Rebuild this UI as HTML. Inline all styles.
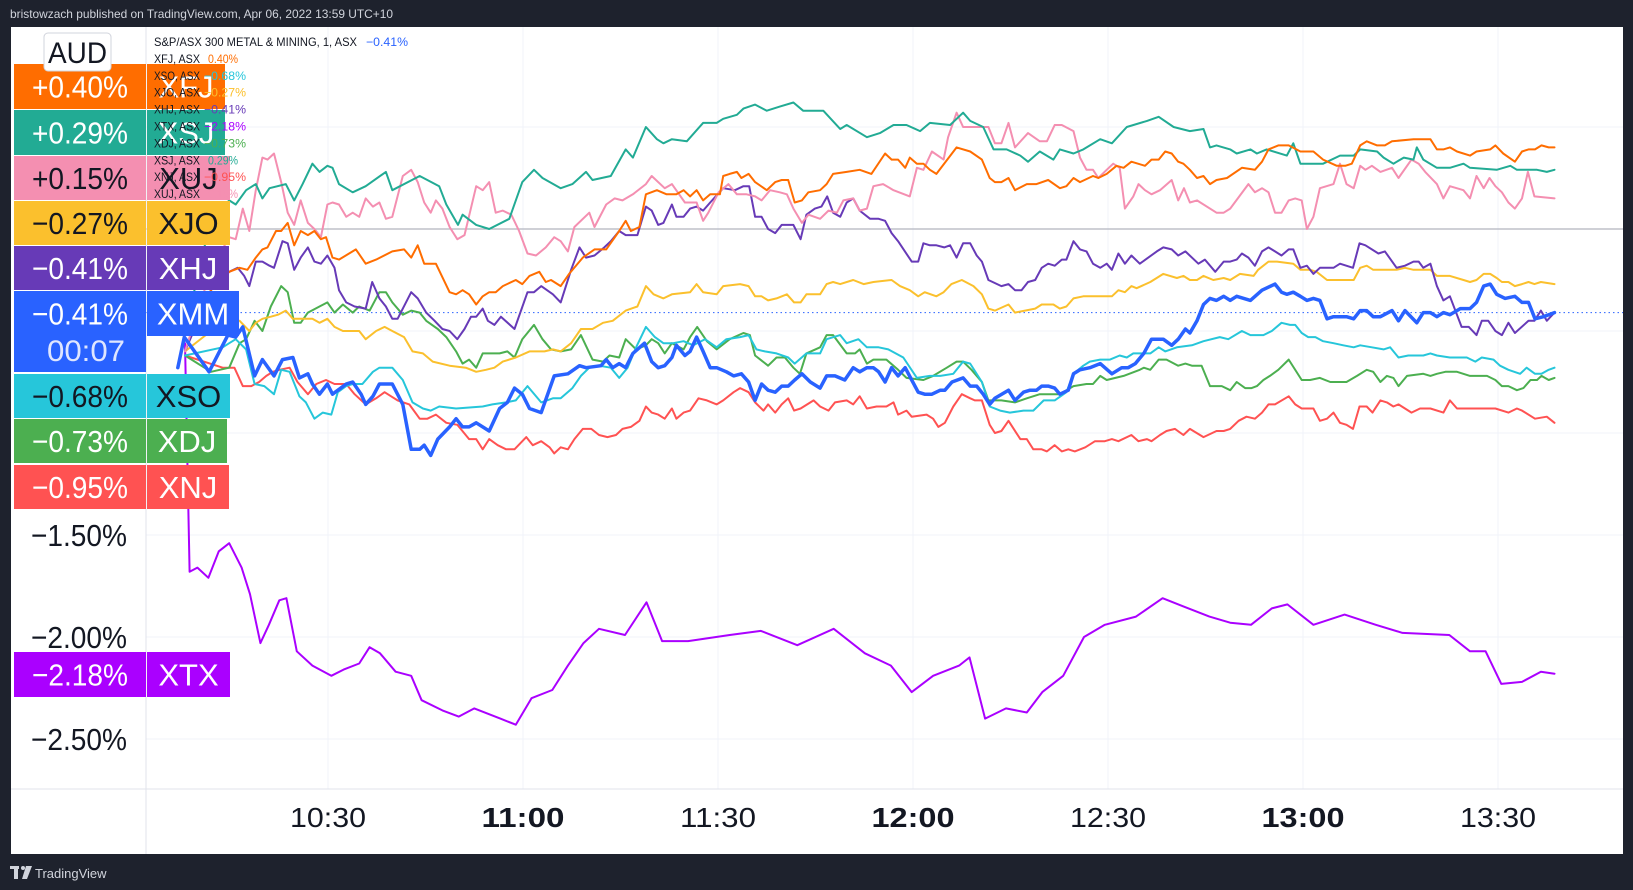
<!DOCTYPE html>
<html><head><meta charset="utf-8"><title>XMM vs ASX sectors</title>
<style>
html,body{margin:0;padding:0;background:#1e222d;}
svg{display:block;font-family:"Liberation Sans",sans-serif;}
</style></head>
<body>
<svg id="chart" width="1633" height="890" viewBox="0 0 1633 890" xmlns="http://www.w3.org/2000/svg">
  <rect x="0" y="0" width="1633" height="890" fill="#1e222d"/>
  <text x="10" y="18" font-size="12" fill="#d1d4dc" textLength="383" lengthAdjust="spacingAndGlyphs">bristowzach published on TradingView.com, Apr 06, 2022 13:59 UTC+10</text>
  <rect x="11" y="27" width="1612" height="827" fill="#ffffff"/>
  <g id="grid"></g>
  <g id="series"></g>
  <line x1="146" y1="27" x2="146" y2="854" stroke="#e0e3eb" stroke-width="1"/>
  <line x1="11" y1="789" x2="1623" y2="789" stroke="#e0e3eb" stroke-width="1"/>
  <g id="ticks"></g>
  <g id="labels"></g>
  <g>
    <rect x="44" y="33" width="67" height="38" rx="4" fill="#ffffff" stroke="#d1d4dc"/>
    <text x="77.5" y="63" font-size="30" text-anchor="middle" fill="#131722" textLength="59" lengthAdjust="spacingAndGlyphs">AUD</text>
  </g>
  <g id="legend"></g>
  <g>
    <rect x="10" y="866" width="9" height="3" fill="#d1d4dc"/>
    <rect x="14" y="866" width="4" height="13" fill="#d1d4dc"/>
    <circle cx="23" cy="868" r="2" fill="#d1d4dc"/>
    <polygon points="26,866 32,866 27,879 22,879" fill="#d1d4dc"/>
    <text x="35" y="878" font-size="13" fill="#d1d4dc">TradingView</text>
  </g>
</svg>
<script>
// ---- data (percent change vs. previous close; minutes after 10:00) ----
const timeTickMinutes = [30, 60, 90, 120, 150, 180, 210];
const timeTickLabels = ["10:30", "11:00", "11:30", "12:00", "12:30", "13:00", "13:30"];
const timeTickBold = [false, true, false, true, false, true, false];
const priceTicks = [0.5, 0, -0.5, -1.0, -1.5, -2.0, -2.5];
const priceTickLabels = ["+0.50%", "0.00%", "−0.50%", "−1.00%", "−1.50%", "−2.00%", "−2.50%"];
const currentXMM = -0.41;

const xtx = [[8,-0.56],[8.7,-1.68],[9.9,-1.66],[11.6,-1.71],[13.2,-1.58],[14.8,-1.54],[16.7,-1.66],[18,-1.79],[19.6,-2.03],[20.9,-1.94],[22.5,-1.82],[23.6,-1.81],[25.2,-2.07],[27.6,-2.14],[30.5,-2.19],[32.4,-2.16],[34.8,-2.13],[36.4,-2.05],[38,-2.08],[40.4,-2.17],[42.8,-2.19],[44.4,-2.31],[47.6,-2.36],[50.1,-2.39],[52.5,-2.35],[56.5,-2.40],[58.9,-2.43],[61.3,-2.30],[64.5,-2.26],[66.9,-2.14],[69.3,-2.03],[71.7,-1.96],[75.7,-1.99],[79,-1.83],[81.4,-2.02],[85.4,-2.02],[91.8,-1.99],[96.6,-1.97],[102.2,-2.04],[107.8,-1.96],[112.6,-2.08],[116.6,-2.14],[119.8,-2.27],[123.1,-2.19],[127.1,-2.14],[128.7,-2.10],[131.1,-2.40],[134.3,-2.35],[137.5,-2.37],[139.9,-2.27],[143.1,-2.19],[146.3,-2.00],[149.5,-1.94],[154.3,-1.90],[158.4,-1.81],[161.6,-1.85],[165.6,-1.90],[168.8,-1.93],[172,-1.94],[175.2,-1.86],[177.6,-1.84],[181.6,-1.94],[186.4,-1.89],[191.2,-1.94],[195.3,-1.98],[202.5,-1.99],[205.7,-2.07],[208.1,-2.07],[210.5,-2.23],[213.7,-2.22],[216.6,-2.17],[218.7,-2.18]];

const xsj = [[8,-0.5],[12,0.05],[14.8,0.14],[15.8,0.12],[17.4,0.19],[18.9,0.22],[19.9,0.15],[21,0.2],[23.5,0.22],[24.8,0.14],[26.1,0.22],[27.6,0.32],[28.7,0.28],[29.9,0.31],[30.7,0.3],[31.7,0.22],[33.8,0.18],[35.8,0.21],[38.9,0.28],[39.9,0.19],[44.1,0.26],[47.1,0.21],[48.2,0.12],[50,0.02],[50.7,0.07],[52.8,0.02],[54.8,0],[57.9,0.05],[59.9,0.23],[61.7,0.29],[63,0.25],[65.8,0.2],[67.6,0.22],[69.7,0.28],[70.7,0.24],[73.5,0.26],[75.8,0.39],[76.9,0.35],[78.9,0.5],[80.6,0.44],[81.6,0.42],[82.9,0.44],[85.2,0.43],[87.7,0.52],[89.8,0.52],[90.8,0.54],[92.9,0.56],[93.9,0.59],[95.7,0.61],[97.5,0.58],[99.5,0.6],[101.6,0.62],[103.1,0.58],[106.2,0.58],[108.8,0.49],[109.8,0.51],[112.9,0.45],[114.9,0.47],[117,0.51],[119,0.51],[121.1,0.48],[122.6,0.52],[125.7,0.51],[127.7,0.57],[128.8,0.53],[130.8,0.5],[132.4,0.39],[134.4,0.39],[136.5,0.36],[137.7,0.33],[139.5,0.38],[141.6,0.34],[142.6,0.39],[144.7,0.37],[146.2,0.39],[148.8,0.44],[150.6,0.42],[152.9,0.5],[156,0.53],[157.8,0.55],[160.1,0.5],[162.6,0.48],[164.7,0.49],[165.7,0.4],[166.7,0.41],[168.8,0.39],[169.8,0.37],[171.9,0.39],[172.9,0.37],[174.4,0.39],[177.5,0.36],[178.5,0.42],[179.6,0.32],[183.1,0.32],[185.7,0.36],[187.8,0.36],[188.8,0.39],[191.4,0.38],[192.4,0.35],[193.9,0.32],[195.5,0.35],[197,0.34],[197.5,0.4],[198.5,0.34],[200.6,0.3],[202.6,0.3],[204.7,0.32],[205.7,0.3],[209.8,0.29],[211.9,0.31],[212.9,0.29],[216,0.29],[217.5,0.28],[218.7,0.29]];

const xfj = [[8,-0.5],[12,-0.3],[14.8,-0.21],[16.4,-0.19],[17.6,-0.2],[18.9,-0.14],[19.9,-0.1],[20.7,-0.09],[22,-0.01],[22.8,-0.01],[23.8,0.03],[24.8,-0.08],[25.8,-0.01],[26.9,-0.03],[27.9,-0.01],[28.9,-0.05],[29.7,-0.04],[30.7,-0.14],[31.7,-0.15],[34.3,-0.1],[35.8,-0.17],[37.4,-0.15],[39.9,-0.11],[41.7,-0.1],[42.8,-0.14],[43.8,-0.08],[44.8,-0.17],[46.6,-0.17],[48.7,-0.31],[49.7,-0.32],[50.7,-0.3],[51.7,-0.32],[52.8,-0.37],[53.8,-0.33],[54.8,-0.31],[55.8,-0.31],[56.9,-0.28],[58.9,-0.25],[59.9,-0.27],[61,-0.23],[62.5,-0.21],[63.5,-0.26],[64.3,-0.25],[65.8,-0.28],[67.1,-0.22],[69.2,-0.14],[71,-0.1],[72.8,-0.1],[74.8,-0.01],[75.8,0.04],[76.6,-0.01],[77.9,0.01],[78.9,0.17],[80.6,0.19],[82.1,0.17],[83.6,0.17],[84.7,0.19],[85.7,0.16],[86.7,0.19],[87.7,0.14],[88.8,0.17],[90.3,0.17],[90.8,0.26],[91.8,0.27],[92.9,0.28],[93.6,0.25],[94.7,0.27],[95.7,0.23],[97.5,0.19],[98.8,0.23],[99.8,0.24],[100.8,0.24],[101.8,0.13],[102.9,0.14],[103.9,0.18],[105.7,0.19],[106.7,0.22],[107.7,0.27],[109.8,0.28],[111.8,0.29],[113.6,0.27],[115.7,0.37],[116.7,0.34],[117.7,0.34],[118.8,0.3],[119.5,0.35],[120.6,0.32],[121.6,0.32],[122.6,0.29],[123.6,0.27],[126.7,0.4],[128.8,0.38],[130.6,0.34],[131.8,0.25],[132.6,0.23],[133.6,0.23],[134.7,0.25],[135.7,0.19],[137.5,0.22],[139,0.22],[140.8,0.24],[142.6,0.2],[143.6,0.21],[144.7,0.25],[145.7,0.23],[147.7,0.26],[148.5,0.25],[149.8,0.27],[151.3,0.31],[152.4,0.3],[153.6,0.33],[155.7,0.31],[156.7,0.34],[157.8,0.34],[158.8,0.38],[159.8,0.37],[160.8,0.33],[161.6,0.32],[162.6,0.29],[163.7,0.25],[164.7,0.26],[165.7,0.22],[166.7,0.24],[168.3,0.25],[170.6,0.3],[172.6,0.29],[173.7,0.33],[174.7,0.39],[176.2,0.41],[177.8,0.41],[179.6,0.38],[181.6,0.38],[183.1,0.34],[185.2,0.31],[186.5,0.31],[187.5,0.32],[188.8,0.41],[189.8,0.43],[191.4,0.41],[192.6,0.41],[193.7,0.43],[197,0.44],[199.6,0.44],[200.6,0.39],[201.6,0.39],[202.6,0.4],[203.7,0.38],[205.7,0.36],[206.7,0.38],[208.8,0.39],[209.6,0.41],[210.8,0.37],[212.6,0.33],[213.7,0.38],[214.7,0.39],[215.7,0.39],[216.7,0.41],[217.8,0.4],[218.7,0.4]];

const xuj = [[8,-0.6],[12,-0.2],[14.8,-0.04],[15.8,-0.05],[16.9,0.1],[17.9,-0.01],[18.9,0.19],[19.9,0.35],[20.7,0.34],[21.7,0.37],[22.8,0.23],[23.8,0.08],[24.8,0.02],[25.8,0.14],[26.9,0.03],[27.9,0],[28.9,-0.04],[29.9,0.12],[30.7,0.13],[31.7,0.12],[32.8,0.06],[33.8,0.08],[34.8,0.06],[35.8,0.15],[36.9,0.11],[37.9,0.13],[38.9,0.05],[39.9,0.06],[41.5,0.26],[42.8,0.29],[43.8,0.23],[44.8,0.13],[45.8,0.08],[46.6,0.14],[47.6,0.1],[48.7,0.01],[49.9,-0.05],[51,-0.03],[52.8,0.21],[53.8,0.19],[54.8,0.23],[55.8,0.08],[56.9,0.09],[58.2,0.07],[59.4,-0.01],[60.7,-0.12],[62,-0.13],[63.5,-0.09],[64.8,-0.04],[65.8,-0.06],[66.9,-0.11],[67.9,0.01],[70.2,0.08],[71,0.01],[72.8,0.12],[74.1,0.15],[75.3,0.14],[76.9,0.17],[78.9,0.22],[79.8,0.26],[81.8,0.2],[82.9,0.22],[84.9,0.13],[86.7,0.13],[87.7,0.04],[88.5,0.08],[90.1,0.18],[91.6,0.22],[92.9,0.17],[94.4,0.17],[95.7,0.16],[96.7,0.14],[98,0.19],[99.5,0.18],[100.6,0.17],[101.6,0.1],[102.9,0.03],[103.9,0.07],[105.7,0.05],[107,0.09],[108.3,0.08],[109.3,0.14],[110.8,0.15],[111.8,0.09],[112.9,0.1],[113.9,0.21],[115.4,0.22],[117,0.19],[119.5,0.16],[120.6,0.3],[121.6,0.29],[122.9,0.38],[124.7,0.34],[125.4,0.45],[126.7,0.57],[127.7,0.5],[129.3,0.5],[131.6,0.5],[132.6,0.42],[133.6,0.42],[134.7,0.52],[135.7,0.4],[137.7,0.47],[139.5,0.43],[140.6,0.43],[141.8,0.51],[142.9,0.51],[144.7,0.48],[145.7,0.35],[146.7,0.29],[147.7,0.29],[148.5,0.25],[149.8,0.29],[150.8,0.32],[151.8,0.3],[152.6,0.1],[153.9,0.16],[154.7,0.22],[155.7,0.19],[156.7,0.17],[158,0.19],[159.8,0.24],[160.8,0.14],[161.7,0.2],[162.6,0.13],[163.7,0.14],[166.7,0.08],[167.8,0.08],[168.8,0.1],[171.6,0.22],[172.6,0.18],[173.7,0.2],[174.7,0.18],[175.7,0.08],[176.7,0.08],[177.8,0.14],[178.8,0.15],[179.8,0.14],[180.6,0],[181.6,0.06],[182.6,0.2],[184.7,0.22],[185.7,0.32],[186.7,0.22],[187.8,0.2],[188.8,0.31],[189.6,0.29],[190.6,0.31],[191.9,0.28],[193.7,0.3],[194.7,0.25],[196.7,0.34],[197.8,0.32],[198.8,0.28],[200.6,0.22],[201.6,0.15],[202.6,0.21],[204.7,0.19],[205.7,0.15],[206.7,0.26],[207.8,0.2],[208.7,0.25],[209.6,0.21],[210.6,0.18],[211.6,0.13],[212.6,0.1],[213.7,0.15],[214.6,0.28],[215.6,0.16],[218.7,0.15]];

const xhj = [[8,-0.6],[12,-0.3],[14.8,-0.21],[16.1,-0.19],[17.1,-0.23],[17.9,-0.28],[18.9,-0.16],[19.9,-0.16],[21,-0.18],[21.7,-0.19],[23,-0.06],[23.8,-0.07],[24.8,-0.2],[25.8,-0.14],[26.9,-0.09],[27.9,-0.16],[28.9,-0.17],[29.9,-0.13],[31,-0.19],[31.7,-0.3],[32.8,-0.36],[34.1,-0.38],[35.8,-0.39],[36.8,-0.26],[37.9,-0.34],[38.9,-0.38],[39.9,-0.44],[40.7,-0.44],[42.8,-0.31],[43.8,-0.34],[45.1,-0.41],[46.4,-0.45],[47.6,-0.49],[48.7,-0.5],[49.9,-0.54],[51,-0.49],[52,-0.43],[52.8,-0.43],[53.8,-0.39],[54.6,-0.45],[55.6,-0.47],[56.6,-0.43],[58.7,-0.49],[60.7,-0.31],[61.7,-0.31],[62.8,-0.28],[64.6,-0.32],[65.8,-0.36],[67.4,-0.2],[68.7,-0.09],[69.7,-0.14],[71,-0.13],[72.5,-0.09],[73.5,-0.06],[74.8,-0.01],[75.8,-0.03],[77.6,-0.03],[78.9,0.11],[79.8,0.09],[80.8,0.02],[81.6,0.03],[82.9,0.12],[83.6,0.06],[84.7,0.06],[85.7,0.1],[86.7,0.11],[87.7,0.09],[88.8,0.13],[90.8,0.2],[92.6,0.19],[93.9,0.21],[94.8,0.21],[95.7,0.06],[96.7,0.06],[97.7,0],[98.8,-0.02],[99.8,0.02],[100.6,0.02],[101.6,0.02],[102.7,-0.05],[103.6,0.07],[104.9,0.1],[105.9,0.11],[106.8,0.16],[107.7,0.08],[108.8,0.06],[109.8,0.13],[110.8,0.15],[111.8,0.09],[113.4,0.05],[114.7,0.05],[115.7,0.04],[116.7,-0.02],[117.7,-0.06],[119.8,-0.16],[120.8,-0.16],[121.6,-0.07],[122.6,-0.08],[123.6,-0.08],[124.8,-0.09],[125.7,-0.08],[126.7,-0.14],[127.7,-0.07],[128.8,-0.07],[129.8,-0.13],[130.6,-0.16],[131.6,-0.25],[133.6,-0.28],[134.7,-0.27],[135.7,-0.3],[136.7,-0.3],[137.7,-0.26],[138.8,-0.25],[139.8,-0.19],[140.8,-0.17],[141.8,-0.18],[142.9,-0.15],[143.6,-0.15],[144.7,-0.06],[145.7,-0.1],[146.7,-0.11],[147.7,-0.17],[148.8,-0.19],[149.8,-0.17],[150.6,-0.2],[151.6,-0.12],[152.6,-0.17],[153.6,-0.13],[154.9,-0.17],[156.2,-0.14],[157.5,-0.11],[158.5,-0.09],[159.8,-0.1],[160.8,-0.13],[161.9,-0.11],[163.9,-0.17],[164.9,-0.15],[166.5,-0.21],[167.8,-0.16],[168.8,-0.16],[169.8,-0.15],[170.6,-0.12],[171.6,-0.14],[172.6,-0.18],[173.7,-0.11],[174.7,-0.09],[175.7,-0.11],[176.7,-0.13],[177.8,-0.1],[178.5,-0.1],[179.6,-0.19],[180.6,-0.18],[181.6,-0.22],[182.6,-0.19],[184.7,-0.19],[185.7,-0.17],[187.7,-0.19],[188.7,-0.07],[189.6,-0.08],[191.6,-0.12],[192.6,-0.11],[194.4,-0.19],[195.7,-0.18],[197,-0.16],[197.8,-0.16],[198.5,-0.19],[199.6,-0.17],[200.6,-0.28],[201.6,-0.35],[202.6,-0.33],[204.4,-0.48],[205.5,-0.48],[206.7,-0.52],[207.5,-0.45],[208.5,-0.45],[209.6,-0.5],[210.6,-0.52],[211.6,-0.46],[212.6,-0.51],[214.7,-0.45],[215.6,-0.45],[216.6,-0.4],[217.5,-0.45],[218.7,-0.41]];

const xjo = [[8,-0.6],[12,-0.5],[14.8,-0.44],[16.4,-0.45],[17.9,-0.5],[18.9,-0.46],[19.9,-0.44],[21.2,-0.43],[22.3,-0.42],[23.5,-0.4],[24.6,-0.44],[26.1,-0.44],[27.6,-0.44],[28.7,-0.46],[29.9,-0.44],[31,-0.48],[32.3,-0.5],[34.8,-0.5],[35.8,-0.54],[37.4,-0.5],[38.7,-0.48],[39.9,-0.5],[41.7,-0.53],[43,-0.6],[44.6,-0.61],[46.1,-0.65],[48.7,-0.67],[51.2,-0.68],[52.8,-0.7],[54.3,-0.69],[55.6,-0.68],[56.9,-0.65],[58.9,-0.63],[61,-0.6],[63.3,-0.6],[64.6,-0.59],[65.8,-0.6],[67.4,-0.56],[68.9,-0.49],[70.7,-0.49],[72.3,-0.46],[73.8,-0.45],[75.8,-0.4],[77.6,-0.38],[78.9,-0.28],[80.1,-0.32],[81.6,-0.34],[82.9,-0.32],[85.7,-0.31],[86.7,-0.27],[87.7,-0.31],[89.8,-0.32],[90.8,-0.28],[93.4,-0.27],[94.7,-0.28],[95.7,-0.33],[96.7,-0.33],[97.7,-0.35],[99,-0.34],[100.6,-0.32],[101.7,-0.36],[102.7,-0.36],[103.6,-0.32],[105.7,-0.32],[106.7,-0.27],[107.7,-0.26],[108.8,-0.27],[110.8,-0.25],[112.4,-0.27],[113.9,-0.26],[116.7,-0.25],[118,-0.28],[119.5,-0.3],[120.8,-0.33],[121.8,-0.31],[123.6,-0.33],[124.7,-0.31],[125.9,-0.27],[127.5,-0.25],[129.3,-0.28],[130.6,-0.32],[131.6,-0.39],[132.6,-0.4],[134.7,-0.37],[135.7,-0.41],[138.8,-0.39],[139.8,-0.37],[141.6,-0.37],[142.6,-0.39],[143.6,-0.38],[144.7,-0.34],[146.2,-0.33],[148,-0.33],[150.6,-0.33],[151.6,-0.3],[152.6,-0.31],[153.6,-0.28],[154.4,-0.29],[156.5,-0.26],[158.5,-0.22],[160.6,-0.24],[161.6,-0.23],[162.6,-0.25],[163.7,-0.25],[164.7,-0.23],[166.2,-0.25],[167.8,-0.24],[168.8,-0.25],[170.3,-0.22],[172.4,-0.23],[173.1,-0.2],[174.7,-0.16],[176,-0.16],[178.5,-0.17],[179.6,-0.2],[181.1,-0.2],[182.1,-0.21],[183.7,-0.25],[185.7,-0.25],[187.8,-0.25],[188.8,-0.19],[189.8,-0.18],[190.8,-0.2],[192.9,-0.2],[194.4,-0.2],[195.7,-0.19],[197,-0.2],[199.6,-0.2],[200.6,-0.23],[202.6,-0.23],[204.7,-0.25],[205.7,-0.26],[206.7,-0.25],[207.8,-0.22],[208.8,-0.22],[209.8,-0.24],[210.6,-0.26],[211.6,-0.26],[212.6,-0.28],[213.7,-0.27],[214.7,-0.26],[215.6,-0.27],[216.6,-0.26],[218.7,-0.27]];

const xdj = [[8,-0.62],[12,-0.7],[14.8,-0.68],[16.4,-0.56],[17.4,-0.54],[18.7,-0.45],[19.9,-0.5],[21.2,-0.38],[22.8,-0.28],[23.8,-0.31],[24.8,-0.46],[25.8,-0.46],[26.9,-0.41],[28.7,-0.38],[29.9,-0.36],[31,-0.41],[32.3,-0.37],[33.8,-0.41],[34.8,-0.38],[36.4,-0.4],[37.9,-0.31],[38.9,-0.31],[39.9,-0.36],[41.5,-0.42],[42.8,-0.4],[44.1,-0.41],[45.1,-0.45],[46.9,-0.49],[48.2,-0.53],[49.7,-0.6],[50.7,-0.66],[51.7,-0.64],[52.8,-0.68],[53.8,-0.61],[56.4,-0.61],[57.6,-0.6],[58.7,-0.63],[59.9,-0.54],[61.7,-0.47],[63,-0.54],[64.3,-0.59],[65.8,-0.6],[67.4,-0.59],[68.9,-0.52],[70.7,-0.64],[72.3,-0.65],[73.3,-0.62],[74.8,-0.63],[75.8,-0.54],[77.4,-0.59],[78.9,-0.57],[79.8,-0.54],[80.8,-0.56],[81.8,-0.61],[82.9,-0.56],[84.7,-0.59],[85.7,-0.53],[86.8,-0.48],[88.3,-0.55],[89.8,-0.59],[91.8,-0.54],[93.9,-0.51],[94.9,-0.52],[95.7,-0.62],[97.7,-0.67],[99,-0.63],[100.3,-0.63],[101.6,-0.68],[102.6,-0.71],[103.6,-0.61],[105.7,-0.58],[106.7,-0.52],[107.7,-0.52],[109.8,-0.61],[111.1,-0.61],[111.8,-0.59],[112.9,-0.66],[113.9,-0.64],[115.9,-0.64],[117.7,-0.69],[119,-0.73],[121.6,-0.74],[123.1,-0.72],[125.2,-0.68],[126.7,-0.65],[127.7,-0.65],[129,-0.69],[130.6,-0.75],[131.6,-0.84],[133.6,-0.84],[135.7,-0.85],[137.5,-0.83],[139.5,-0.81],[140.8,-0.81],[142.6,-0.81],[144.7,-0.77],[146.7,-0.76],[147.7,-0.76],[148.8,-0.72],[149.8,-0.74],[152.4,-0.72],[154.9,-0.69],[155.5,-0.68],[156.5,-0.69],[157.8,-0.64],[159,-0.64],[160.8,-0.67],[161.9,-0.66],[162.9,-0.67],[164.4,-0.67],[165.7,-0.77],[167.5,-0.77],[168.8,-0.79],[169.8,-0.75],[171.1,-0.78],[172.1,-0.78],[172.9,-0.77],[173.9,-0.74],[174.9,-0.72],[176.2,-0.69],[177.8,-0.64],[179.8,-0.74],[181.1,-0.74],[182.6,-0.73],[184.2,-0.75],[186.7,-0.75],[188.3,-0.72],[189.8,-0.69],[190.8,-0.7],[191.9,-0.75],[192.9,-0.72],[193.9,-0.73],[194.7,-0.77],[196,-0.72],[198.5,-0.71],[199.6,-0.72],[200.6,-0.71],[201.9,-0.7],[203.7,-0.7],[205.7,-0.72],[208.3,-0.72],[209.6,-0.74],[210.6,-0.77],[211.6,-0.77],[212.9,-0.79],[213.9,-0.78],[215,-0.74],[216,-0.74],[216.7,-0.72],[217.8,-0.74],[218.7,-0.73]];

const xso = [[8,-0.62],[13.8,-0.58],[14.8,-0.56],[15.8,-0.54],[17.4,-0.59],[18.7,-0.76],[20.2,-0.77],[21.7,-0.81],[22.8,-0.69],[24.1,-0.7],[25.6,-0.82],[26.6,-0.85],[27.9,-0.93],[29.2,-0.9],[30.5,-0.91],[31.5,-0.8],[32.8,-0.77],[33.8,-0.76],[35.3,-0.76],[36.9,-0.7],[37.9,-0.68],[39.9,-0.68],[41.5,-0.74],[43,-0.85],[44.6,-0.88],[45.8,-0.89],[47.1,-0.87],[49.7,-0.88],[53.8,-0.87],[55.3,-0.86],[57.4,-0.85],[58.9,-0.84],[60.7,-0.77],[62.8,-0.85],[64.6,-0.83],[65.8,-0.83],[67.6,-0.78],[68.9,-0.72],[70.2,-0.68],[71.7,-0.67],[73.5,-0.68],[74.8,-0.73],[76.1,-0.68],[77.4,-0.58],[78.9,-0.48],[80.3,-0.53],[81.6,-0.56],[83.1,-0.56],[84.7,-0.55],[86.2,-0.57],[88,-0.54],[89.8,-0.58],[91.3,-0.54],[93.4,-0.53],[94.7,-0.52],[95.9,-0.59],[97.2,-0.6],[99,-0.61],[100.8,-0.63],[101.8,-0.66],[103.6,-0.61],[105.7,-0.61],[106.7,-0.54],[108.8,-0.52],[109.8,-0.56],[111.6,-0.54],[112.9,-0.58],[114.7,-0.58],[116.2,-0.59],[118.5,-0.63],[120.6,-0.73],[122.6,-0.72],[124.2,-0.72],[126.2,-0.71],[127.7,-0.65],[128.8,-0.66],[130.6,-0.75],[131.8,-0.87],[133.4,-0.89],[134.9,-0.9],[137,-0.89],[138.5,-0.89],[140.1,-0.84],[141.8,-0.84],[143.6,-0.8],[144.7,-0.71],[146.2,-0.67],[147.2,-0.65],[148.8,-0.64],[150.3,-0.64],[151.8,-0.62],[152.9,-0.63],[153.9,-0.61],[154.4,-0.61],[156.5,-0.61],[157.8,-0.58],[158.8,-0.6],[160.6,-0.58],[162.9,-0.57],[164.7,-0.55],[167.2,-0.53],[168.5,-0.54],[170.6,-0.5],[171.9,-0.52],[173.9,-0.52],[175.2,-0.5],[176.7,-0.46],[178,-0.47],[178.8,-0.47],[179.8,-0.51],[180.8,-0.53],[181.9,-0.53],[183.1,-0.55],[184.7,-0.56],[186.2,-0.57],[187.8,-0.58],[188.8,-0.57],[190.6,-0.58],[192.4,-0.59],[193.4,-0.58],[194.7,-0.63],[196.2,-0.62],[198.5,-0.62],[199.6,-0.61],[200.6,-0.62],[202.6,-0.63],[205.2,-0.63],[206.5,-0.65],[207.5,-0.63],[209.3,-0.64],[210.3,-0.67],[211.6,-0.69],[213.4,-0.71],[214.4,-0.68],[215.7,-0.71],[216.7,-0.71],[217.8,-0.69],[218.7,-0.68]];

const xnj = [[8,-0.62],[13.8,-0.68],[15.6,-0.68],[16.9,-0.77],[18.2,-0.77],[19.4,-0.75],[20.5,-0.72],[21.5,-0.7],[22.5,-0.69],[24.1,-0.68],[25.3,-0.75],[26.9,-0.81],[28.2,-0.76],[29.7,-0.74],[31,-0.76],[32.8,-0.76],[34.1,-0.81],[35.8,-0.86],[37.4,-0.83],[38.7,-0.8],[39.7,-0.82],[40.7,-0.84],[42.5,-0.86],[44.1,-0.93],[45.3,-0.93],[46.6,-0.91],[48.2,-0.95],[49.9,-0.96],[51.7,-1.03],[52.8,-1.03],[53.8,-1.08],[54.8,-1.03],[56.1,-1.06],[57.4,-1.08],[58.7,-1.08],[60.5,-1.02],[61.5,-1.06],[62.8,-1.04],[64.1,-1.07],[64.8,-1.1],[65.8,-1.07],[66.9,-1.08],[67.9,-1.03],[69.2,-0.98],[70.5,-0.98],[71.7,-1.01],[73,-1.02],[74.3,-1.01],[75.3,-0.98],[76.6,-0.97],[77.9,-0.94],[78.9,-0.87],[79.8,-0.9],[80.8,-0.91],[81.8,-0.93],[82.9,-0.88],[83.6,-0.93],[84.7,-0.9],[85.7,-0.89],[87,-0.83],[88.3,-0.84],[89.8,-0.86],[90.8,-0.84],[92.4,-0.8],[93.4,-0.78],[94.7,-0.8],[95.7,-0.85],[97,-0.89],[97.7,-0.86],[98.8,-0.9],[99.8,-0.86],[100.8,-0.83],[101.7,-0.89],[102.7,-0.88],[104.7,-0.84],[105.7,-0.87],[107,-0.89],[108,-0.85],[109.8,-0.84],[110.8,-0.86],[111.8,-0.82],[112.9,-0.88],[114.4,-0.87],[115.9,-0.87],[117,-0.85],[117.7,-0.91],[119,-0.89],[119.8,-0.92],[122.1,-0.91],[123.1,-0.93],[123.9,-0.97],[124.9,-0.95],[126.2,-0.87],[127.5,-0.81],[128.8,-0.83],[129.5,-0.84],[130.6,-0.84],[131.8,-0.96],[132.6,-1],[133.6,-0.99],[134.7,-0.94],[136.5,-1.03],[137.5,-1.03],[138.5,-1.08],[139.8,-1.08],[140.6,-1.09],[141.8,-1.06],[142.9,-1.09],[143.9,-1.08],[144.9,-1.09],[146.5,-1.07],[148,-1.04],[149.5,-1.04],[150.6,-1.03],[151.6,-1.04],[153.6,-1.01],[154.7,-1.04],[156,-1.03],[156.7,-1.04],[158,-1.01],[159,-0.99],[160.3,-0.98],[161.6,-1.01],[162.6,-0.98],[164.7,-1.02],[166.7,-0.99],[167.8,-0.99],[168.8,-0.98],[170.1,-0.94],[171.3,-0.92],[172.6,-0.93],[173.7,-0.9],[174.7,-0.86],[175.7,-0.86],[177.8,-0.82],[178.8,-0.86],[179.8,-0.88],[181.6,-0.88],[182.6,-0.94],[183.7,-0.93],[184.7,-0.9],[185.7,-0.95],[186.7,-0.96],[187.7,-0.98],[188.7,-0.87],[189.8,-0.87],[190.7,-0.9],[191.9,-0.84],[192.9,-0.85],[193.9,-0.87],[194.7,-0.86],[196.7,-0.9],[198,-0.88],[199.6,-0.88],[201.6,-0.9],[202.6,-0.84],[203.7,-0.88],[206.7,-0.88],[209.6,-0.88],[211.6,-0.9],[212.9,-0.88],[213.7,-0.89],[215.7,-0.93],[217.5,-0.92],[218.7,-0.95]];

const xmm = [[6.9,-0.68],[7.9,-0.53],[11.7,-0.7],[14.6,-0.52],[15.8,-0.53],[16.9,-0.48],[18.7,-0.72],[19.9,-0.64],[21.7,-0.72],[23,-0.64],[24.6,-0.63],[25.6,-0.73],[26.9,-0.71],[27.6,-0.76],[28.7,-0.81],[29.9,-0.76],[30.7,-0.81],[32.8,-0.76],[33.8,-0.75],[35.1,-0.81],[35.8,-0.86],[36.9,-0.82],[37.9,-0.76],[39.9,-0.76],[41.5,-0.86],[42.8,-1.08],[44.1,-1.08],[44.8,-1.06],[45.8,-1.11],[46.9,-1.03],[48.7,-0.97],[49.7,-0.93],[50.7,-0.97],[51.7,-0.97],[52.8,-0.95],[54.8,-0.99],[56.4,-0.88],[57.6,-0.85],[58.7,-0.78],[59.9,-0.81],[61,-0.88],[62.8,-0.9],[64.8,-0.72],[66.9,-0.71],[68.7,-0.67],[69.7,-0.68],[72,-0.67],[72.8,-0.64],[73.8,-0.68],[74.8,-0.66],[75.8,-0.68],[76.9,-0.61],[78.7,-0.56],[79.8,-0.65],[80.8,-0.68],[81.8,-0.67],[82.9,-0.63],[83.6,-0.57],[84.9,-0.62],[85.7,-0.6],[86.7,-0.53],[87.7,-0.6],[88.8,-0.68],[89.8,-0.68],[91.3,-0.7],[92.4,-0.72],[93.6,-0.71],[94.7,-0.75],[95.7,-0.84],[96.7,-0.76],[97.7,-0.79],[98.8,-0.8],[99.8,-0.77],[100.8,-0.77],[101.8,-0.74],[102.9,-0.71],[104.2,-0.75],[105.7,-0.78],[106.7,-0.72],[108,-0.72],[109.5,-0.74],[110.8,-0.68],[111.8,-0.7],[112.9,-0.68],[113.9,-0.68],[114.7,-0.7],[115.7,-0.75],[116.7,-0.68],[117.7,-0.72],[118.8,-0.68],[119.8,-0.74],[120.8,-0.8],[121.8,-0.81],[122.9,-0.81],[124.2,-0.79],[124.9,-0.79],[126,-0.75],[127.7,-0.73],[128.8,-0.77],[129.8,-0.77],[130.8,-0.81],[131.8,-0.86],[132.6,-0.83],[134.7,-0.79],[135.7,-0.84],[137,-0.8],[138,-0.79],[139,-0.79],[139.8,-0.77],[140.8,-0.77],[141.8,-0.78],[142.6,-0.81],[143.9,-0.79],[144.7,-0.71],[145.7,-0.69],[147.2,-0.68],[148.8,-0.66],[150.6,-0.71],[152.1,-0.68],[153.1,-0.68],[154.2,-0.66],[155.5,-0.61],[156.7,-0.54],[158.5,-0.54],[159.8,-0.57],[160.8,-0.54],[161.9,-0.49],[162.6,-0.51],[163.7,-0.45],[164.7,-0.37],[165.7,-0.34],[166.7,-0.35],[167.8,-0.33],[168.8,-0.35],[169.8,-0.33],[171.9,-0.35],[173.7,-0.3],[175.7,-0.27],[176.7,-0.31],[177.5,-0.32],[178.5,-0.31],[179.6,-0.33],[180.6,-0.35],[181.6,-0.34],[182.6,-0.35],[183.7,-0.44],[184.7,-0.43],[186.7,-0.43],[187.8,-0.44],[188.8,-0.4],[189.8,-0.4],[190.8,-0.43],[191.9,-0.43],[193.7,-0.4],[194.7,-0.45],[195.7,-0.4],[197.5,-0.46],[198.5,-0.41],[199.6,-0.41],[200.6,-0.43],[201.6,-0.41],[202.6,-0.42],[204.2,-0.39],[205.7,-0.39],[206.7,-0.36],[207.8,-0.28],[208.8,-0.27],[209.8,-0.32],[211.1,-0.34],[212.6,-0.33],[213.7,-0.36],[214.7,-0.36],[215.7,-0.44],[217,-0.43],[218.7,-0.41]];

// ---- scales ----
const X0 = 133, PX_PER_MIN = 6.5, Y0 = 229, PX_PER_PCT = 204;
function xScale(m){ return X0 + m * PX_PER_MIN; }
function yScale(v){ return Y0 - v * PX_PER_PCT; }

const NS = "http://www.w3.org/2000/svg";
function mk(tag, attrs, parent){
  const el = document.createElementNS(NS, tag);
  for (const k in attrs) el.setAttribute(k, attrs[k]);
  parent.appendChild(el);
  return el;
}
const grid = document.getElementById('grid');
const ticks = document.getElementById('ticks');
const series = document.getElementById('series');
const labels = document.getElementById('labels');
const legend = document.getElementById('legend');

// grid
timeTickMinutes.forEach((m) => {
  const l = mk('line', {x1: xScale(m), x2: xScale(m), y1: 27, y2: 789, stroke: '#f0f3fa', 'stroke-width': 1}, grid);
  
  
});
priceTicks.forEach((v) => {
  const l = mk('line', {x1: 146, x2: 1623, y1: yScale(v), y2: yScale(v), stroke: v === 0 ? '#b2b5be' : '#f0f3fa', 'stroke-width': v === 0 ? 1.3 : 1}, grid);
  
  
});
const dl = mk('line', {x1: 146, x2: 1623, y1: yScale(currentXMM), y2: yScale(currentXMM), stroke: '#2962ff', 'stroke-width': 1, 'stroke-dasharray': '1.5 3'}, grid);



// ticks
timeTickMinutes.forEach((m, i) => {
  const t = mk('text', {x: xScale(m), y: 827, 'font-size': 28, 'text-anchor': 'middle', fill: '#131722', 'font-weight': timeTickBold[i] ? 'bold' : 'normal', textLength: timeTickBold[i] ? 83 : 76, lengthAdjust: 'spacingAndGlyphs'}, ticks);
  t.textContent = timeTickLabels[i];
  
  
});
priceTicks.forEach((v, i) => {
  const t = mk('text', {x: 127, y: yScale(v) + 11, 'font-size': 31, 'text-anchor': 'end', fill: '#131722', textLength: 96, lengthAdjust: 'spacingAndGlyphs'}, ticks);
  t.textContent = priceTickLabels[i];
  
  
});

// series
const seriesList = [
  {name: 'xtx-line', data: xtx, color: '#aa00ff', w: 2},
  {name: 'xnj-line', data: xnj, color: '#ff5252', w: 2},
  {name: 'xdj-line', data: xdj, color: '#4caf50', w: 2},
  {name: 'xso-line', data: xso, color: '#26c6da', w: 2},
  {name: 'xjo-line', data: xjo, color: '#fbc02d', w: 2},
  {name: 'xhj-line', data: xhj, color: '#673ab7', w: 2},
  {name: 'xuj-line', data: xuj, color: '#f48fb1', w: 2},
  {name: 'xsj-line', data: xsj, color: '#22ab94', w: 2},
  {name: 'xfj-line', data: xfj, color: '#ff6d00', w: 2},
  {name: 'xmm-line', data: xmm, color: '#2962ff', w: 3.5}
];
seriesList.forEach((s) => {
  const d = s.data.map((p, i) => (i ? 'L' : 'M') + xScale(p[0]).toFixed(1) + ' ' + yScale(p[1]).toFixed(1)).join(' ');
  const path = mk('path', {d: d, fill: 'none', stroke: s.color, 'stroke-width': s.w, 'stroke-linejoin': 'round', 'stroke-linecap': 'round'}, series);
  
  
});

// price labels (stacked boxes)
const boxes = [
  {sym: 'XFJ', val: '+0.40%', y1: 64, y2: 109, r: 225, bg: '#ff6d00', fg: '#ffffff'},
  {sym: 'XSJ', val: '+0.29%', y1: 110, y2: 155, r: 225, bg: '#22ab94', fg: '#ffffff'},
  {sym: 'XUJ', val: '+0.15%', y1: 156, y2: 200, r: 230, bg: '#f48fb1', fg: '#131722'},
  {sym: 'XJO', val: '−0.27%', y1: 201, y2: 245, r: 230, bg: '#fbc02d', fg: '#131722'},
  {sym: 'XHJ', val: '−0.41%', y1: 246, y2: 290, r: 229, bg: '#673ab7', fg: '#ffffff'},
  {sym: 'XMM', val: '−0.41%', y1: 291, y2: 336, r: 239, bg: '#2962ff', fg: '#ffffff', y3: 372, sub: '00:07'},
  {sym: 'XSO', val: '−0.68%', y1: 374, y2: 418, r: 230, bg: '#26c6da', fg: '#131722'},
  {sym: 'XDJ', val: '−0.73%', y1: 419, y2: 463, r: 227, bg: '#4caf50', fg: '#ffffff'},
  {sym: 'XNJ', val: '−0.95%', y1: 465, y2: 509, r: 229, bg: '#ff5252', fg: '#ffffff'},
  {sym: 'XTX', val: '−2.18%', y1: 652, y2: 697, r: 230, bg: '#aa00ff', fg: '#ffffff'}
];
boxes.forEach((b) => {
  const g = mk('g', {}, labels);
  
  
  const bottomLeft = b.y3 || b.y2;
  mk('rect', {x: 14, y: b.y1, width: 132, height: bottomLeft - b.y1, fill: b.bg}, g);
  mk('rect', {x: 147, y: b.y1, width: b.r - 147, height: b.y2 - b.y1, fill: b.bg}, g);
  const cy = (b.y1 + b.y2) / 2;
  const t1 = mk('text', {x: 80, y: cy + 11, 'font-size': 31, 'text-anchor': 'middle', fill: b.fg, textLength: 96, lengthAdjust: 'spacingAndGlyphs'}, g);
  t1.textContent = b.val;
  const t2 = mk('text', {x: (147 + b.r) / 2, y: cy + 11, 'font-size': 31, 'text-anchor': 'middle', fill: b.fg}, g);
  t2.textContent = b.sym;
  if (b.sub) {
    const t3 = mk('text', {x: 86, y: 361, 'font-size': 30, 'text-anchor': 'middle', fill: '#dfe6ff', textLength: 78, lengthAdjust: 'spacingAndGlyphs'}, g);
    t3.textContent = b.sub;
  }
});

// legend
const legendNames = ['S&P/ASX 300 METAL & MINING, 1, ASX', 'XFJ, ASX', 'XSO, ASX', 'XJO, ASX', 'XHJ, ASX', 'XTX, ASX', 'XDJ, ASX', 'XSJ, ASX', 'XNJ, ASX', 'XUJ, ASX'];
const legendValues = ['−0.41%', '0.40%', '−0.68%', '−0.27%', '−0.41%', '−2.18%', '−0.73%', '0.29%', '−0.95%', '0.15%'];
const legendColors = ['#2962ff', '#ff6d00', '#26c6da', '#fbc02d', '#673ab7', '#aa00ff', '#4caf50', '#22ab94', '#ff5252', '#f48fb1'];
legendNames.forEach((n, i) => {
  const y = 46 + i * 16.9;
  const g = mk('g', {}, legend);
  
  
  const a = mk('text', {x: 154, y: y, 'font-size': 12, fill: '#131722', textLength: i === 0 ? 203 : 46, lengthAdjust: 'spacingAndGlyphs'}, g);
  a.textContent = n;
  const neg = legendValues[i].charAt(0) === '−';
  const vx = i === 0 ? 366 : (neg ? 204 : 208);
  const b = mk('text', {x: vx, y: y, 'font-size': 12, fill: legendColors[i], textLength: neg ? 42 : 30, lengthAdjust: 'spacingAndGlyphs'}, g);
  b.textContent = legendValues[i];
});
</script>
</body></html>
